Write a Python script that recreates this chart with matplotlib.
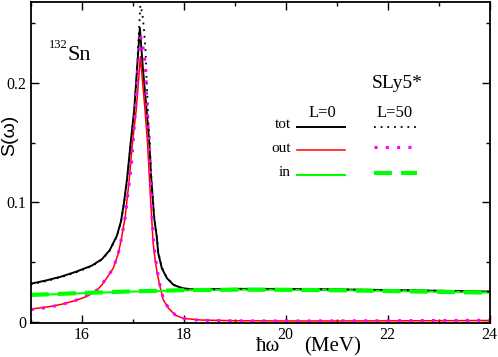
import matplotlib.pyplot as plt
from matplotlib.lines import Line2D
from matplotlib.ticker import MultipleLocator

# ---- data ----
# L=0
tot0_x = [15.0, 15.3, 15.6, 15.9, 16.2, 16.4, 16.55, 16.69, 16.77, 16.83, 16.89, 16.96,
          17.03, 17.09, 17.14, 17.20, 17.27, 17.325, 17.36, 17.42, 17.47, 17.50, 17.57,
          17.67, 17.80, 17.96, 18.12, 18.5, 19, 20, 21, 22, 23, 24]
tot0_y = [0.0318, 0.0345, 0.0378, 0.0420, 0.0470, 0.0525, 0.0600, 0.0720, 0.0840, 0.100,
          0.120, 0.150, 0.178, 0.215, 0.246, 0.212, 0.178, 0.150, 0.122, 0.087, 0.0714,
          0.0575, 0.0449, 0.0365, 0.0308, 0.0282, 0.0272, 0.0272, 0.0275, 0.0274, 0.0270,
          0.0265, 0.0259, 0.0252]

out0_x = [15.0, 15.35, 15.6, 15.86, 16.06, 16.2, 16.3, 16.4, 16.49, 16.62, 16.72, 16.78,
          16.85, 16.93, 16.99, 17.07, 17.15, 17.24, 17.29, 17.325, 17.37, 17.40, 17.44,
          17.48, 17.535, 17.60, 17.70, 17.83, 17.99, 18.32, 19, 20, 21, 22, 23, 24]
out0_y = [0.0105, 0.0125, 0.0145, 0.0175, 0.0205, 0.0235, 0.0265, 0.031, 0.0365, 0.0449,
          0.0575, 0.0700, 0.0870, 0.118, 0.148, 0.178, 0.222, 0.178, 0.150, 0.122, 0.088,
          0.066, 0.0518, 0.0407, 0.0294, 0.0182, 0.0113, 0.0056, 0.0028, 0.0014, 0.0008,
          0.0006, 0.0006, 0.0007, 0.0008, 0.0010]

in0_x = [15, 16, 17, 18, 19, 20, 21, 22, 23, 24]
in0_y = [0.0222, 0.0238, 0.0252, 0.0263, 0.0268, 0.0267, 0.0264, 0.0258, 0.0251, 0.0244]

# L=50
tot50_x = [15.0, 15.3, 15.6, 15.9, 16.2, 16.4, 16.55, 16.69, 16.77, 16.83, 16.89, 16.96,
           17.03, 17.08, 17.11, 17.15, 17.19, 17.22, 17.25, 17.27, 17.29, 17.31, 17.335,
           17.36, 17.42, 17.47, 17.50, 17.57, 17.67, 17.80, 17.96, 18.12, 18.5, 19, 20,
           21, 22, 23, 24]
tot50_y = [0.0312, 0.0340, 0.0373, 0.0415, 0.0465, 0.0520, 0.0595, 0.0715, 0.0835, 0.099,
           0.119, 0.149, 0.176, 0.205, 0.235, 0.265, 0.258, 0.245, 0.228, 0.205, 0.186,
           0.165, 0.150, 0.124, 0.089, 0.073, 0.059, 0.0455, 0.0368, 0.0310, 0.0283,
           0.0273, 0.0272, 0.0275, 0.0274, 0.0270, 0.0265, 0.0259, 0.0252]

out50_x = [15.0, 15.35, 15.6, 15.86, 16.06, 16.3, 16.49, 16.62, 16.72, 16.78, 16.85, 16.91,
           16.98, 17.045, 17.10, 17.16, 17.21, 17.25, 17.27, 17.30, 17.325, 17.35, 17.38,
           17.41, 17.45, 17.49, 17.54, 17.61, 17.71, 17.84, 18.0, 18.3, 19, 20, 21, 22,
           23, 24]
out50_y = [0.0100, 0.0120, 0.0143, 0.0175, 0.0210, 0.0265, 0.0365, 0.0449, 0.0575, 0.070,
           0.087, 0.108, 0.134, 0.172, 0.210, 0.238, 0.228, 0.214, 0.190, 0.165, 0.150,
           0.122, 0.088, 0.066, 0.052, 0.041, 0.029, 0.018, 0.011, 0.0055, 0.0025, 0.0012,
           0.0007, 0.0006, 0.0007, 0.0008, 0.0010, 0.0012]

in50_x = [15, 16, 17, 18, 19, 20, 21, 22, 23, 24]
in50_y = [0.0224, 0.0240, 0.0254, 0.0264, 0.0268, 0.0267, 0.0263, 0.0257, 0.0250, 0.0243]

yticks = [0, 0.1, 0.2]
ytick_labels = ['0', '0.1', '0.2']
xticks = [16, 18, 20, 22, 24]

SERIF = 'Liberation Serif'
RED = '#ff0000'
GREEN = '#00ff00'
MAGENTA = '#ff00ff'

fig = plt.figure(figsize=(4.98, 3.57), dpi=100)
ax = fig.add_axes([0.0617, 0.0966, 0.9216, 0.8986])

ax.plot(tot0_x, tot0_y, color='black', lw=1.4)
ax.plot(out0_x, out0_y, color=RED, lw=1.1)
ax.plot(in0_x, in0_y, color=GREEN, lw=1.5)
ax.plot(tot50_x, tot50_y, color='black', lw=1.3, linestyle=(0, (1, 2.7)))
ax.plot(out50_x, out50_y, color=MAGENTA, lw=2.2, linestyle=(0, (1, 2.7)))
ax.plot(in50_x, in50_y, color=GREEN, lw=3.0, linestyle=(0, (4.3, 2.2)))

ax.set_xlim(15, 24)
ax.set_ylim(-0.0007, 0.268)
ax.set_xticks(xticks)
ax.set_yticks(yticks)
ax.set_yticklabels(ytick_labels)
ax.xaxis.set_minor_locator(MultipleLocator(1))
ax.yaxis.set_minor_locator(MultipleLocator(0.05))
ax.tick_params(which='both', direction='in', top=True, right=True, width=1.0)
ax.tick_params(which='major', length=5.8, labelsize=11.5, pad=3)
ax.tick_params(which='minor', length=3.2)
for lab in ax.get_xticklabels() + ax.get_yticklabels():
    lab.set_family(SERIF)
for sp in ax.spines.values():
    sp.set_linewidth(1.3)

# axis labels
fig.text(10 / 498, 1 - 135 / 357, 'S(ω)', rotation=90, ha='center', va='center',
         family='Liberation Sans', fontsize=14)
fig.text(256 / 498, 1 - 351 / 357, 'ħω', ha='left', va='baseline', family=SERIF, fontsize=15)
fig.text(304 / 498, 1 - 351 / 357, '(MeV)', ha='left', va='baseline', family=SERIF, fontsize=15)

# nucleus label
fig.text(49 / 498, 1 - 48 / 357, '132', ha='left', va='baseline', family=SERIF, fontsize=9)
fig.text(67 / 498, 1 - 60 / 357, 'Sn', ha='left', va='baseline', family=SERIF, fontsize=16)

# legend block
fig.text(372 / 498, 1 - 88 / 357, 'SLy5*', ha='left', va='baseline', family=SERIF, fontsize=14)
fig.text(322 / 498, 1 - 117 / 357, 'L=0', ha='center', va='baseline', family=SERIF, fontsize=12)
fig.text(395 / 498, 1 - 117 / 357, 'L=50', ha='center', va='baseline', family=SERIF, fontsize=12)

rows = [('tot', 124, 127, 126.5), ('out', 148, 150, 147), ('in', 172, 175, 173)]
styles0 = [dict(color='black', lw=1.4), dict(color=RED, lw=1.1), dict(color=GREEN, lw=1.5)]
styles50 = [dict(color='black', lw=1.3, linestyle=(0, (1, 2.7))),
            dict(color=MAGENTA, lw=2.2, linestyle=(0, (1, 2.7))),
            dict(color=GREEN, lw=3.0, linestyle=(0, (4.3, 2.2)))]
for (name, ty, y0, y50), s0, s50 in zip(rows, styles0, styles50):
    fig.text(291 / 498, 1 - ty / 357, name, ha='right', va='center', family=SERIF, fontsize=11)
    fig.add_artist(Line2D([297 / 498, 345 / 498], [1 - y0 / 357] * 2,
                          transform=fig.transFigure, **s0))
    fig.add_artist(Line2D([374 / 498, 417 / 498], [1 - y50 / 357] * 2,
                          transform=fig.transFigure, **s50))

fig.savefig('out.png', dpi=100)
